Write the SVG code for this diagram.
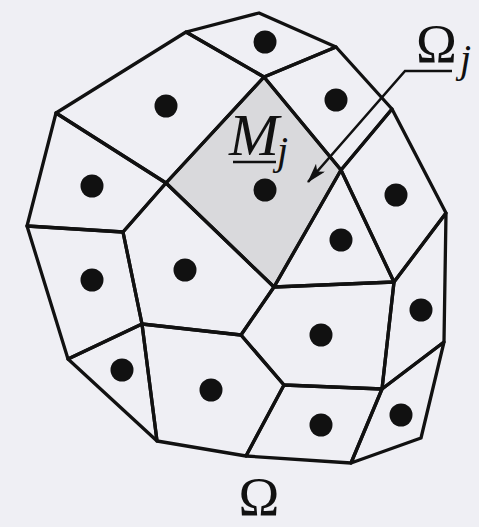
<svg xmlns="http://www.w3.org/2000/svg" width="479" height="527" viewBox="0 0 479 527">
<defs>
<style>
.cell{fill:none;stroke:#111;stroke-width:3.3;stroke-linejoin:round}
.shaded{fill:#d9d9dc}
.dot{fill:#111}
.lbl{font-family:"Liberation Serif","DejaVu Serif",serif;fill:#111}
.it{font-style:italic}
.lead{fill:none;stroke:#111;stroke-width:2.6}
</style>
<marker id="ah" viewBox="0 0 20 12" refX="19" refY="6" markerWidth="20" markerHeight="12" markerUnits="userSpaceOnUse" orient="auto">
<path d="M0,0 L20,6 L0,12 L5,6 Z" fill="#111"/>
</marker>
</defs>
<rect width="479" height="527" fill="#efeff4"/>
<g id="cell-shaded"><polygon class="cell shaded" points="166,183 264,77 341,170 274,287"/><circle class="dot" cx="265" cy="190" r="11.5"/></g>
<g id="cell-top"><polygon class="cell" points="186,32 259,13 336,47 264,77"/><circle class="dot" cx="265" cy="42" r="11.5"/></g>
<g id="cell-2"><polygon class="cell" points="186,32 264,77 166,183 56,113"/><circle class="dot" cx="166" cy="106" r="11.5"/></g>
<g id="cell-3"><polygon class="cell" points="56,113 166,183 123,232 27,226"/><circle class="dot" cx="92" cy="186" r="11.5"/></g>
<g id="cell-5"><polygon class="cell" points="264,77 336,47 392,109 341,170"/><circle class="dot" cx="336" cy="100" r="11.5"/></g>
<g id="cell-6"><polygon class="cell" points="341,170 392,109 446,213 394,282"/><circle class="dot" cx="396" cy="195" r="11.5"/></g>
<g id="cell-7"><polygon class="cell" points="341,170 394,282 274,287"/><circle class="dot" cx="341" cy="240" r="11.5"/></g>
<g id="cell-8"><polygon class="cell" points="123,232 166,183 274,287 241,335 142,324"/><circle class="dot" cx="185" cy="270" r="11.5"/></g>
<g id="cell-9"><polygon class="cell" points="27,226 123,232 142,324 68,359"/><circle class="dot" cx="92" cy="280" r="11.5"/></g>
<g id="cell-10"><polygon class="cell" points="68,359 142,324 157,441"/><circle class="dot" cx="122" cy="370" r="11.5"/></g>
<g id="cell-11"><polygon class="cell" points="142,324 241,335 284,385 246,456 157,441"/><circle class="dot" cx="211" cy="390" r="11.5"/></g>
<g id="cell-12"><polygon class="cell" points="274,287 394,282 382,389 284,385 241,335"/><circle class="dot" cx="321" cy="335" r="11.5"/></g>
<g id="cell-13"><polygon class="cell" points="394,282 446,213 444,342 382,389"/><circle class="dot" cx="421" cy="310" r="11.5"/></g>
<g id="cell-14"><polygon class="cell" points="284,385 382,389 351,463 246,456"/><circle class="dot" cx="321" cy="425" r="11.5"/></g>
<g id="cell-15"><polygon class="cell" points="382,389 444,342 421,438 351,463"/><circle class="dot" cx="401" cy="415" r="11.5"/></g>
<g id="connectors">
<polyline class="lead" points="452,71 405,71 308,182" marker-end="url(#ah)"/>
</g>
<g id="label-Mj">
<text class="lbl it" x="229" y="155" font-size="60">M</text>
<text class="lbl it" x="277" y="164" font-size="40">j</text>
<line x1="233" y1="162" x2="276" y2="162" stroke="#111" stroke-width="2.6"/>
</g>
<g id="label-Omega-j">
<text class="lbl" x="416" y="62" font-size="55">Ω</text>
<text class="lbl it" x="460" y="72" font-size="40">j</text>
</g>
<g id="label-Omega">
<text class="lbl" x="259" y="515" font-size="55" text-anchor="middle">Ω</text>
</g>
</svg>
